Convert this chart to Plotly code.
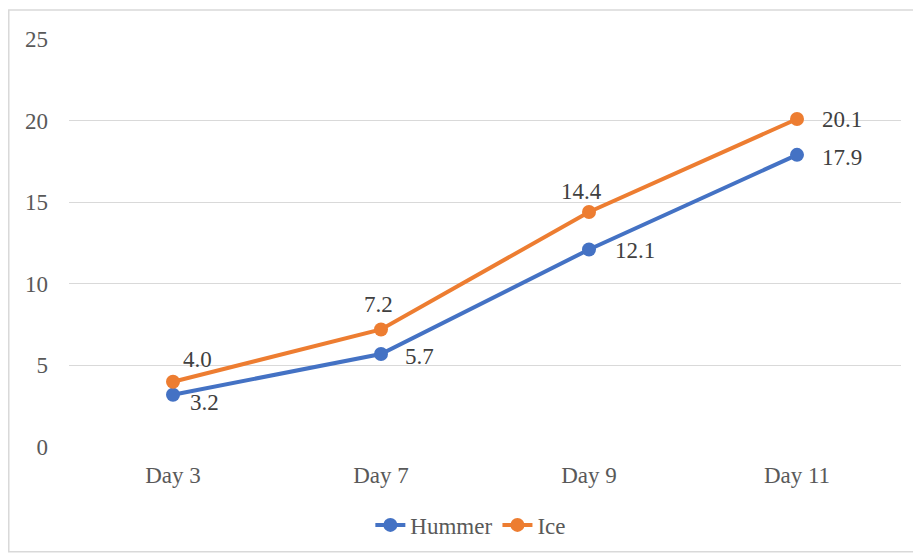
import plotly.graph_objects as go

categories = ["Day 3", "Day 7", "Day 9", "Day 11"]
hummer = [3.2, 5.7, 12.1, 17.9]
ice = [4.0, 7.2, 14.4, 20.1]

# label placement (style only): anchor, x-shift, y-shift in px
hummer_lbl = [("left", 15, -8), ("left", 22, -3), ("left", 24, -1), ("left", 23, -3)]
ice_lbl = [("center", 24, 22), ("center", -3, 25), ("center", -8, 20), ("left", 23, -1)]

FAM = "Liberation Serif"
TXT = "#404040"
TICK = "#595959"
FS = 23

fig = go.Figure()
fig.add_trace(go.Scatter(
    x=categories, y=hummer, name="Hummer", mode="lines+markers",
    line=dict(color="#4472C4", width=4), marker=dict(size=14, color="#4472C4"),
))
fig.add_trace(go.Scatter(
    x=categories, y=ice, name="Ice", mode="lines+markers",
    line=dict(color="#ED7D31", width=4), marker=dict(size=14, color="#ED7D31"),
))

annotations = []
for vals, lbl in ((hummer, hummer_lbl), (ice, ice_lbl)):
    for c, v, (anc, dx, dy) in zip(categories, vals, lbl):
        annotations.append(dict(
            x=c, y=v, xref="x", yref="y", text=f"{v:.1f}", showarrow=False,
            xanchor=anc, yanchor="middle", xshift=dx, yshift=dy,
            font=dict(family=FAM, size=FS, color=TXT),
        ))

fig.update_layout(
    width=913, height=551,
    margin=dict(l=61, r=20, t=31, b=112, autoexpand=False),
    paper_bgcolor="white", plot_bgcolor="white",
    font=dict(family=FAM, size=FS, color=TXT),
    showlegend=True,
    legend=dict(orientation="h", x=0.483, xanchor="center", y=-0.191, yanchor="middle",
                bgcolor="rgba(0,0,0,0)",
                font=dict(family=FAM, size=FS, color=TICK)),
    xaxis=dict(range=[-0.5, 3.5], showgrid=False, showline=False, zeroline=False,
               ticks="", automargin=False, ticklabelstandoff=12,
               tickfont=dict(family=FAM, size=FS, color=TICK)),
    yaxis=dict(range=[0, 25], dtick=5, showgrid=True, gridcolor="#d9d9d9", gridwidth=1,
               zeroline=False, showline=False, ticks="", ticklabelstandoff=20,
               automargin=False,
               tickfont=dict(family=FAM, size=FS, color=TICK)),
    annotations=annotations,
    shapes=[dict(type="rect", xref="paper", yref="paper",
                 x0=-0.0724, x1=1.0168, y0=-0.257, y1=1.071,
                 line=dict(color="#d9d9d9", width=1.5), fillcolor="rgba(0,0,0,0)")],
)

fig.write_html("out.html")
